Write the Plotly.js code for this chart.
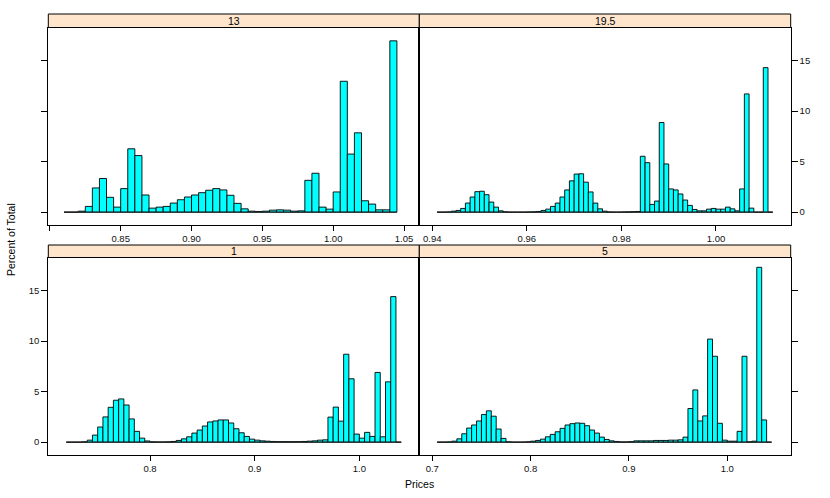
<!DOCTYPE html>
<html>
<head>
<meta charset="utf-8">
<script src="https://cdn.plot.ly/plotly-3.0.1.min.js"></script>
<style>html,body{margin:0;padding:0;background:#fff;}#chart{width:830px;height:498px;}</style>
</head>
<body>
<div id="chart"></div>
<script>
// ---- data (percent of total per price bin) ----
const panelNames = ["13", "19.5", "1", "5"];
const binStart = [0.810, 0.941, 0.720, 0.705];
const binWidth = [0.005, 0.001, 0.005, 0.005];

const pct13 = [0, 0, 0.1, 0.57, 2.4, 3.33, 1.47, 0.5, 2.33, 6.27, 5.6, 1.7, 0.4, 0.5, 0.57, 0.9,
  1.23, 1.5, 1.7, 1.93, 2.17, 2.33, 2.2, 1.67, 0.87, 0.33, 0.1, 0.07, 0.1, 0.2, 0.23, 0.2, 0.1, 0.13,
  3.15, 3.85, 0.5, 0.3, 2.0, 12.95, 5.75, 7.85, 1.13, 0.8, 0.23, 0.23, 16.95];

const pct19_5 = [0, 0, 0.02, 0.1, 0.17, 0.37, 0.9, 1.5, 2.03, 2.07, 1.73, 1.0, 0.5, 0.13, 0.03,
  0, 0, 0, 0, 0.02, 0.03, 0.07, 0.17, 0.3, 0.57, 0.9, 1.5, 2.2, 3.1, 3.77, 3.8, 2.97, 2.0, 0.9, 0.33,
  0.1, 0.02, 0, 0, 0.02, 0.03, 0.05, 0.07, 5.53, 4.9, 0.77, 1.1, 8.87, 4.77, 2.3, 2.2, 1.8, 1.2,
  0.67, 0.27, 0.13, 0.13, 0.3, 0.37, 0.3, 0.3, 0.5, 0.33, 0.13, 2.3, 11.7, 0.4, 0, 0, 14.3, 0];

const pct1 = [0, 0, 0, 0.03, 0.2, 0.7, 1.5, 2.5, 3.45, 4.15, 4.28, 3.68, 2.3, 1.07, 0.4, 0.12, 0.03,
  0.02, 0.02, 0.03, 0.07, 0.17, 0.33, 0.53, 0.9, 1.2, 1.6, 2.0, 2.1, 2.2, 2.2, 1.9, 1.33, 0.93, 0.57,
  0.3, 0.2, 0.13, 0.1, 0.07, 0.05, 0.05, 0.05, 0.05, 0.05, 0.07, 0.1, 0.13, 0.2, 0.23, 2.48, 3.47,
  2.08, 8.7, 6.27, 0.8, 0.4, 0.97, 0.57, 6.9, 0.53, 5.97, 14.4, 0];

const pct5 = [0, 0, 0.02, 0.1, 0.33, 0.83, 1.4, 1.7, 2.1, 2.73, 3.1, 2.57, 1.3, 0.37, 0.03, 0, 0, 0,
  0.03, 0.1, 0.17, 0.3, 0.53, 0.77, 1.03, 1.37, 1.7, 1.83, 1.9, 1.87, 1.63, 1.2, 0.9, 0.5, 0.27, 0.13,
  0.07, 0.02, 0.02, 0.05, 0.13, 0.13, 0.13, 0.13, 0.17, 0.17, 0.17, 0.2, 0.2, 0.23, 0.5, 3.33, 5.17,
  2.1, 2.6, 10.2, 8.5, 1.87, 0.2, 0.1, 0.1, 1.07, 8.5, 0.03, 0.1, 17.3, 2.2, 0];

const xTickVals13 = [0.80, 0.85, 0.90, 0.95, 1.00, 1.05];
const xTickText13 = ["", "0.85", "0.90", "0.95", "1.00", "1.05"];
const xTickVals19_5 = [0.94, 0.96, 0.98, 1.00];
const xTickText19_5 = ["0.94", "0.96", "0.98", "1.00"];
const xTickVals1 = [0.8, 0.9, 1.0];
const xTickText1 = ["0.8", "0.9", "1.0"];
const xTickVals5 = [0.7, 0.8, 0.9, 1.0];
const xTickText5 = ["0.7", "0.8", "0.9", "1.0"];
const yTickVals = [0, 5, 10, 15];
const yTickText = ["0", "5", "10", "15"];

const xLabel = "Prices";
const yLabel = "Percent of Total";

// ---- build ----
const seriesList = [pct13, pct19_5, pct1, pct5];
const W = 830, H = 498;
const FONT = "Liberation Sans, Arial, Helvetica, sans-serif";

// panel geometry in pixels
const colX = [[48.3, 419.3], [419.3, 790.7]];
const rowY = [[27.5, 224.5], [257.5, 454.5]];   // plot area top/bottom
const stripY = [[14, 27.5], [245, 257.5]];
const panelPos = [[0, 0], [1, 0], [0, 1], [1, 1]]; // [col,row]
const xRanges = [[0.7989, 1.0608], [0.93725, 1.0158], [0.7028, 1.0573], [0.6868, 1.0645]];
const yRange = [-1.22, 18.27];
const tickVals = [xTickVals13, xTickVals19_5, xTickVals1, xTickVals5];
const tickTexts = [xTickText13, xTickText19_5, xTickText1, xTickText5];

const traces = [];
const layout = {
  width: W, height: H,
  margin: {l: 0, r: 0, t: 0, b: 0},
  paper_bgcolor: "#fff", plot_bgcolor: "#fff",
  showlegend: false,
  font: {family: FONT, size: 10, color: "#000"},
  shapes: [], annotations: []
};

seriesList.forEach((vals, p) => {
  const sfx = p === 0 ? "" : String(p + 1);
  const xa = "x" + sfx, ya = "y" + sfx;
  const w = binWidth[p], s = binStart[p];
  const centers = vals.map((_, i) => s + (i + 0.5) * w);
  traces.push({
    type: "bar", x: centers, y: vals, width: vals.map(() => w),
    xaxis: xa, yaxis: ya,
    marker: {color: "#00FFFF", line: {color: "#000", width: 0.9}},
    hoverinfo: "skip"
  });
  traces.push({
    type: "scatter", mode: "lines",
    x: [s, s + vals.length * w], y: [0, 0],
    xaxis: xa, yaxis: ya,
    line: {color: "#222", width: 1}, hoverinfo: "skip"
  });

  const [c, r] = panelPos[p];
  const xd = [colX[c][0] / W, colX[c][1] / W];
  const yd = [(H - rowY[r][1]) / H, (H - rowY[r][0]) / H];
  layout["xaxis" + sfx] = {
    domain: xd, anchor: ya, range: xRanges[p],
    tickmode: "array", tickvals: tickVals[p], ticktext: tickTexts[p],
    ticks: "outside", ticklen: 5, tickwidth: 1, tickcolor: "#000",
    showline: true, linecolor: "#000", linewidth: 1, mirror: true,
    showgrid: false, zeroline: false,
    tickfont: {family: FONT, size: 9.5, color: "#111"}
  };
  layout["yaxis" + sfx] = {
    domain: yd, anchor: xa, range: yRange,
    side: c === 0 ? "left" : "right",
    tickmode: "array", tickvals: yTickVals, ticktext: yTickText,
    showticklabels: (p === 1 || p === 2),
    ticks: "outside", ticklen: 6, tickwidth: 1, tickcolor: "#000",
    showline: true, linecolor: "#000", linewidth: 1, mirror: true,
    showgrid: false, zeroline: false,
    tickfont: {family: FONT, size: 9.5, color: "#111"}
  };
  // strip
  layout.shapes.push({
    type: "rect", xref: "paper", yref: "paper",
    x0: xd[0], x1: xd[1], y0: (H - stripY[r][1]) / H, y1: (H - stripY[r][0]) / H,
    fillcolor: "#FFE5CC", line: {color: "#000", width: 1}, layer: "above"
  });
  layout.annotations.push({
    xref: "paper", yref: "paper", x: (xd[0] + xd[1]) / 2,
    y: (H - (stripY[r][0] + stripY[r][1]) / 2) / H,
    text: panelNames[p], showarrow: false, xanchor: "center", yanchor: "middle",
    font: {family: FONT, size: 10.5, color: "#000"}
  });
});

layout.annotations.push({
  xref: "paper", yref: "paper", x: 419 / W, y: (H - 484) / H,
  text: xLabel, showarrow: false, xanchor: "center", yanchor: "middle",
  font: {family: FONT, size: 10.5, color: "#000"}
});
layout.annotations.push({
  xref: "paper", yref: "paper", x: 11 / W, y: (H - 240) / H,
  text: yLabel, showarrow: false, textangle: -90, xanchor: "center", yanchor: "middle",
  font: {family: FONT, size: 10.5, color: "#000"}
});

Plotly.newPlot("chart", traces, layout, {staticPlot: true, displayModeBar: false});
</script>
</body>
</html>
